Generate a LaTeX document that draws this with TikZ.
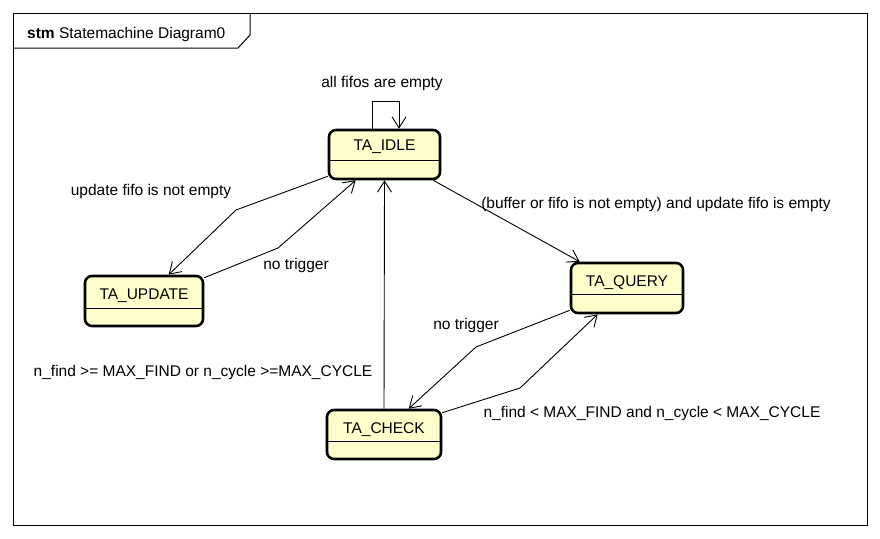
\documentclass[tikz,border=0pt]{standalone}
\usepackage{fontspec}
\setmainfont{Liberation Sans}
\usetikzlibrary{arrows.meta}
\definecolor{stfill}{RGB}{255,255,204}
\tikzset{
  x=1pt, y=-1pt,
  stbox/.style={draw, line width=2.6pt, rounded corners=7pt, fill=stfill, inner sep=0pt},
  sttext/.style={font=\fontsize{15.5}{18}\selectfont, inner sep=0pt, anchor=base},
  lbl/.style={font=\fontsize{15.5}{18}\selectfont, inner sep=0pt, anchor=base},
  tr/.style={line width=0.9pt, -{Straight Barb[length=11pt,width=14pt,line width=0.9pt]}},
  divl/.style={line width=1pt}
}
\begin{document}
\begin{tikzpicture}
\useasboundingbox (0,0) rectangle (880,538);
% frame
\draw[line width=1pt] (13,13) rectangle (867,525);
\draw[line width=1pt] (13,48) -- (238,48) -- (250,35) -- (250,13);
\node[font=\fontsize{15.5}{18}\selectfont, anchor=base west, inner sep=0pt] (title) at (27,38) {\textbf{stm} Statemachine Diagram0};

% states
\node[stbox, minimum width=111pt, minimum height=49pt] (idle) at (384.5,154.5) {};
\draw[divl] ([yshift=-32pt]idle.north west) -- ([yshift=-32pt]idle.north east);
\node[sttext] (idleT) at ([yshift=-22pt]idle.north) {TA\_IDLE};

\node[stbox, minimum width=118pt, minimum height=50pt] (update) at (144,301) {};
\draw[divl] ([yshift=-34pt]update.north west) -- ([yshift=-34pt]update.north east);
\node[sttext] (updateT) at ([yshift=-25pt]update.north) {TA\_UPDATE};

\node[stbox, minimum width=112pt, minimum height=50pt] (query) at (627,288) {};
\draw[divl] ([yshift=-33pt]query.north west) -- ([yshift=-33pt]query.north east);
\node[sttext] (queryT) at ([yshift=-25pt]query.north) {TA\_QUERY};

\node[stbox, minimum width=114pt, minimum height=49pt] (check) at (384,434.5) {};
\draw[divl] ([yshift=-33pt]check.north west) -- ([yshift=-33pt]check.north east);
\node[sttext] (checkT) at ([yshift=-25pt]check.north) {TA\_CHECK};

% transitions
\draw[tr] ([xshift=-12.5pt]idle.north) -- ++(0,-27) -| ([xshift=14.5pt]idle.north);
\node[lbl] (l1) at (382,87) {all fifos are empty};

\draw[tr] ([yshift=4pt]idle.south west) -- (236,210) -- ([xshift=85pt]update.north west);
\node[lbl] (l2) at (151,195) {update fifo is not empty};

\draw[tr] ([yshift=-3pt]update.north east) -- (278,248) -- ([xshift=28pt]idle.south west);
\node[lbl] (l3) at (296,269) {no trigger};

\draw[tr] (check.north) -- (idle.south);
\node[lbl] (l4) at (203,376) {n\_find >= MAX\_FIND or n\_cycle >=MAX\_CYCLE};

\draw[tr] ([xshift=-8pt]idle.south east) -- ([xshift=10pt]query.north west);
\node[lbl] (l5) at (656,208) {(buffer or fifo is not empty) and update fifo is empty};

\draw[tr] ([yshift=4pt]query.south west) -- (476,347) -- ([xshift=83pt]check.north west);
\node[lbl] (l6) at (466,329) {no trigger};

\draw[tr] ([yshift=-4pt]check.north east) -- (520,388) -- ([xshift=28pt]query.south west);
\node[lbl] (l7) at (652,417) {n\_find < MAX\_FIND and n\_cycle < MAX\_CYCLE};
\end{tikzpicture}
\end{document}
